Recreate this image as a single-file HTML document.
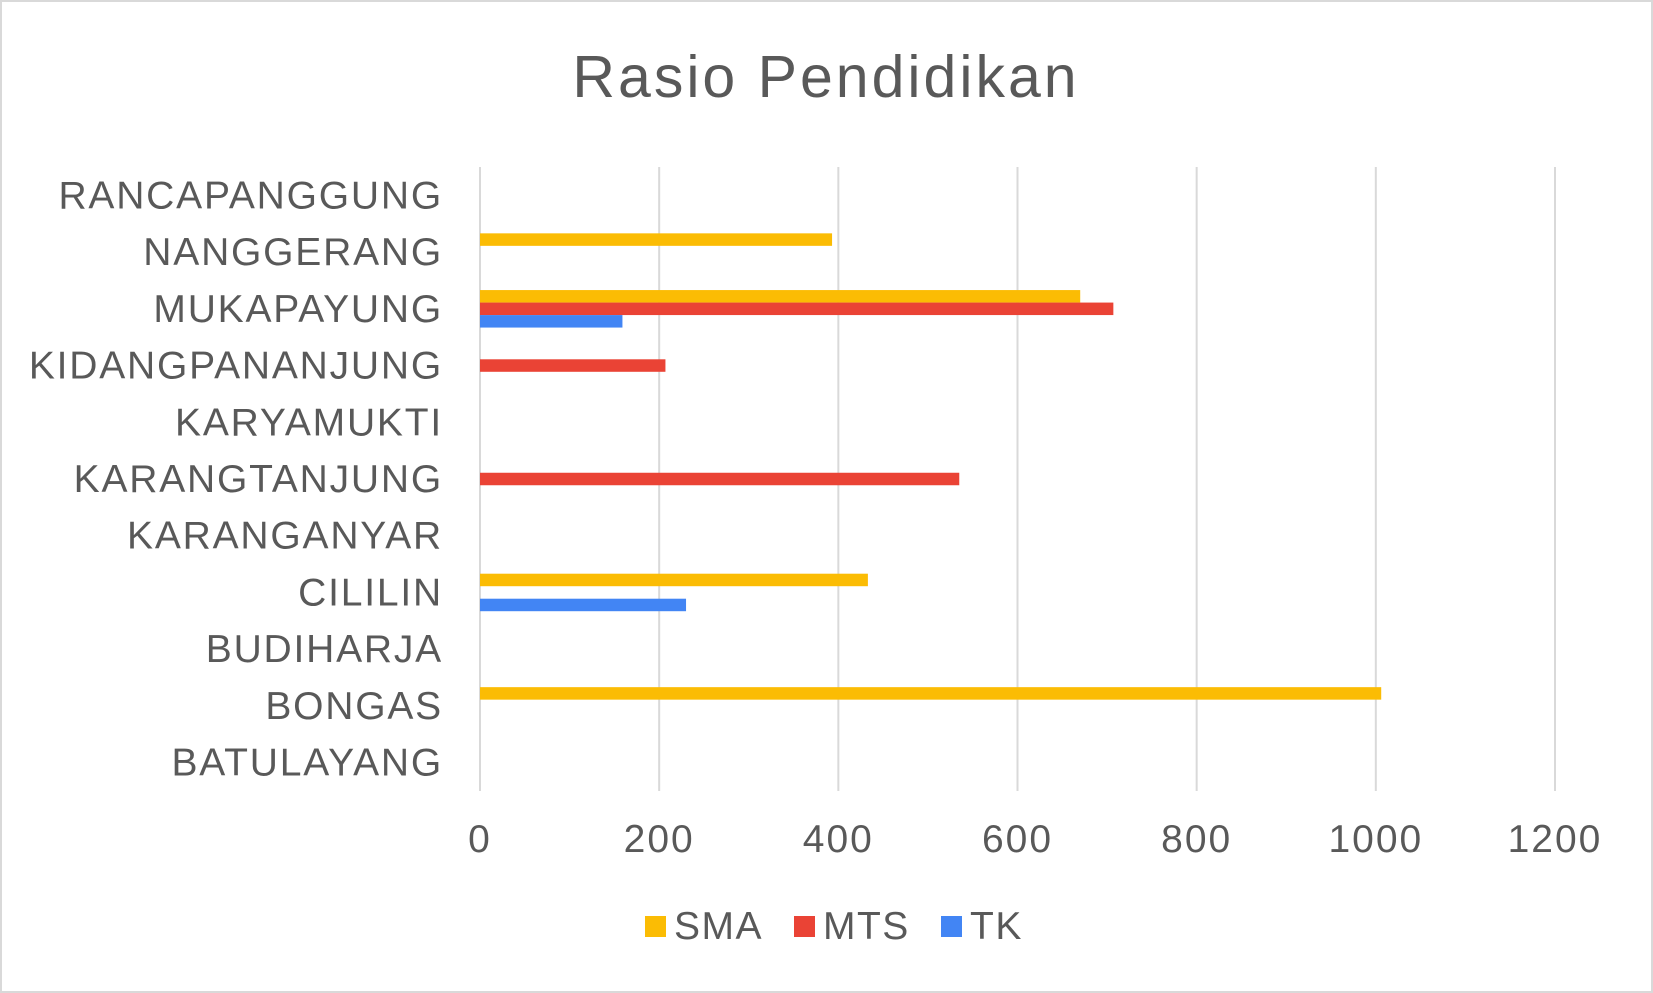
<!DOCTYPE html>
<html><head><meta charset="utf-8"><style>
html,body{margin:0;padding:0;background:#fff}
svg{display:block;font-family:"Liberation Sans",Arial,sans-serif}
</style></head><body>
<svg id="chart" width="1653" height="993">
<rect x="1" y="1" width="1651" height="991" fill="#fff" stroke="#d9d9d9" stroke-width="2"/>
<text x="826" y="97" font-size="59" fill="#595959" text-anchor="middle" letter-spacing="3">Rasio Pendidikan</text>
<g id="grid"></g><g id="bars"></g><g id="ylabels"></g><g id="xlabels"></g>
<g>
<rect x="645" y="916" width="21" height="21" fill="#fbbc04"/>
<text x="674" y="939" font-size="39" fill="#595959" letter-spacing="1.5">SMA</text>
<rect x="794" y="916" width="21" height="21" fill="#ea4335"/>
<text x="823" y="939" font-size="39" fill="#595959" letter-spacing="1.5">MTS</text>
<rect x="941" y="916" width="21" height="21" fill="#4285f4"/>
<text x="970" y="939" font-size="39" fill="#595959" letter-spacing="1.5">TK</text>
</g>
</svg>
<script>
const categories=["BATULAYANG","BONGAS","BUDIHARJA","CILILIN","KARANGANYAR","KARANGTANJUNG","KARYAMUKTI","KIDANGPANANJUNG","MUKAPAYUNG","NANGGERANG","RANCAPANGGUNG"];
const smaValues=[0,1006,0,433,0,0,0,0,670,393,0];
const mtsValues=[0,0,0,0,0,535,0,207,707,0,0];
const tkValues=[0,0,0,230,0,0,0,0,159,0,0];
const xTicks=[0,200,400,600,800,1000,1200];
const NS="http://www.w3.org/2000/svg";
const X0=480,X1=1555,Y0=167,Y1=791,XMAX=1200;
const xs=v=>X0+(X1-X0)*v/XMAX;
const band=(Y1-Y0)/categories.length;
const bandTop=i=>Y1-(i+1)*band;
function mk(tag,attrs,parent){const e=document.createElementNS(NS,tag);for(const k in attrs)e.setAttribute(k,attrs[k]);document.getElementById(parent).appendChild(e);return e;}
xTicks.forEach(t=>{
 const l=mk('line',{x1:xs(t),x2:xs(t),y1:Y0,y2:Y1,stroke:'#d9d9d9','stroke-width':2},'grid');
 
 
 const tx=mk('text',{x:xs(t),y:852,'font-size':39,fill:'#595959','text-anchor':'middle','letter-spacing':2},'xlabels');
 tx.textContent=t;
 
 
});
const series=[["sma",smaValues,"#fbbc04"],["mts",mtsValues,"#ea4335"],["tk",tkValues,"#4285f4"]];
const bh=12.5;
categories.forEach((c,i)=>{
 const top=bandTop(i);
 const gStart=top+(band-3*bh)/2;
 series.forEach((s,j)=>{
  const v=s[1][i];
  if(v>0){
   const r=mk('rect',{x:X0,y:gStart+j*bh,width:xs(v)-X0,height:bh,fill:s[2]},'bars');
   
   
  }
 });
 const t=mk('text',{x:443,y:top+band/2+13,'font-size':39,fill:'#595959','text-anchor':'end','letter-spacing':1.8},'ylabels');
 t.textContent=c;
 
 
});
</script>
</body></html>
